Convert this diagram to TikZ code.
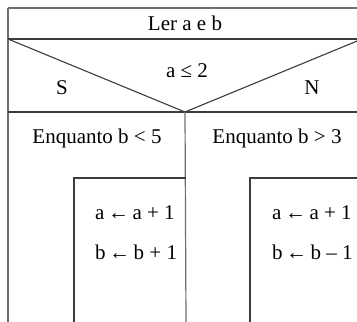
\documentclass[tikz,border=0pt]{standalone}
\usepackage{fontspec}
\setmainfont{Liberation Serif}
\usetikzlibrary{positioning}
\definecolor{nsline}{RGB}{60,60,60}
\definecolor{nsgray}{RGB}{110,110,110}
\tikzset{
    nstext/.style={inner sep=0pt, font=\fontsize{21}{25}\selectfont, text=black},
    thinline/.style={draw=nsgray, line width=1.2pt},
    darkline/.style={draw=nsline, line width=1.1pt},
    thickline/.style={draw=nsline, line width=2pt},
}
\begin{document}
\begin{tikzpicture}[x=1pt, y=-1pt]
\useasboundingbox (0,0) rectangle (357,322);
\clip (0,0) rectangle (357,322);

% corner points of the chart
\coordinate (tl) at (8,8);
\coordinate (tr) at (357,8);
\coordinate (hl) at (8,39);
\coordinate (hr) at (357,39);
\coordinate (hrx) at (362,39);
\coordinate (apex) at (185,112);
\coordinate (sl) at (8,112);
\coordinate (sr) at (357,112);
\coordinate (bl) at (8,322);
\coordinate (mid) at (186,322);

% reading block and decision
\draw[thinline] (tl) -- (tr);
\draw[thinline] (tl) -- (bl);
\draw[thickline] (hl) -- (hr);
\draw[darkline] (hl) -- (apex) -- (hrx);
\draw[thickline] (sl) -- (sr);
\draw[thinline] (apex) -- (mid);

\node[nstext] (read) at (185,23) {Ler a e b};
\node[nstext] (cond) at (187,71) {a ≤ 2};
\node[nstext] (yes) at (62,88) {S};
\node[nstext] (no) at (312,88) {N};

% left loop
\node[nstext] (loopS) at (97,138) {Enquanto b < 5};
\coordinate (bodyS) at (74,178);
\draw[darkline] (mid |- bodyS) -- (bodyS) -- (bodyS |- bl);
\node[nstext, anchor=west] (incA) at (95,213) {a\,←\,a + 1};
\node[nstext, anchor=west] (incB) at (95,252) {b\,←\,b + 1};

% right loop
\node[nstext] (loopN) at (277,138) {Enquanto b > 3};
\coordinate (bodyN) at (250,178);
\draw[darkline] (357,178) -- (bodyN) -- (bodyN |- bl);
\node[nstext, anchor=west] (incC) at (272,213) {a\,←\,a + 1};
\node[nstext, anchor=west] (decB) at (272,252) {b\,←\,b – 1};

\end{tikzpicture}
\end{document}
